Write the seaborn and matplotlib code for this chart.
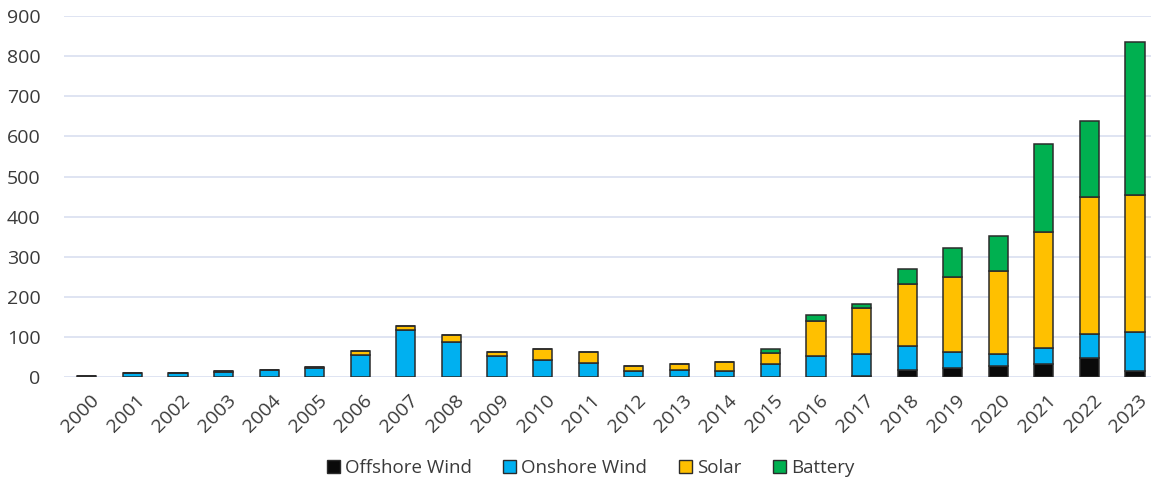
import matplotlib
matplotlib.use("Agg")
import matplotlib.pyplot as plt
from matplotlib.patches import Patch
import matplotlib.transforms as mtransforms
import numpy as np
import seaborn as sns

years = [str(y) for y in range(2000, 2024)]
offshore_wind = [0, 0, 0, 0, 0, 0, 0, 0, 0, 0, 0, 0, 0, 0, 0, 0, 0, 3, 19, 22, 28, 32, 49, 16]
onshore_wind = [2, 10, 10, 13, 17, 23, 56, 118, 87, 53, 43, 36, 15, 19, 16, 33, 52, 55, 58, 40, 29, 42, 58, 96]
solar = [0, 0, 0, 3, 0, 3, 10, 10, 18, 10, 27, 27, 14, 13, 23, 27, 88, 114, 155, 187, 208, 289, 341, 343]
battery = [0, 0, 0, 0, 0, 0, 0, 0, 0, 0, 0, 0, 0, 0, 0, 10, 14, 11, 39, 74, 88, 217, 191, 381]

series = ["Offshore Wind", "Onshore Wind", "Solar", "Battery"]
values = [offshore_wind, onshore_wind, solar, battery]
colors = ["#0a0a0a", "#00b0f0", "#ffc000", "#00b050"]
edge = "#2b2b2b"
text_color = "#3a3a3a"

sns.set_theme(style="white")
plt.rcParams["font.family"] = ["Open Sans", "DejaVu Sans"]

fig = plt.figure(figsize=(11.51, 4.82), dpi=100)
ax = fig.add_axes([64 / 1151, 1 - 377.3 / 482, 1 - 64 / 1151, (377.3 - 16) / 482])

bottom = np.zeros(len(years))
for name, vals, col in zip(series, values, colors):
    vals = np.array(vals, dtype=float)
    sns.barplot(x=years, y=vals, bottom=bottom, color=col, width=0.42,
                edgecolor=edge, linewidth=1.1, saturation=1, ax=ax, zorder=3)
    bottom += vals

ax.set_ylim(0, 900)
ax.set_xlim(-0.5, 23.35)
ax.set_yticks(range(0, 901, 100))
ax.yaxis.grid(True, color="#d9dff0", linewidth=1.2, zorder=0)
ax.xaxis.grid(False)
for s in ax.spines.values():
    s.set_visible(False)
ax.tick_params(axis="y", length=0, pad=17, labelsize=14, labelcolor=text_color)
ax.tick_params(axis="x", length=0, pad=10, labelsize=14, labelcolor=text_color)
shift = mtransforms.ScaledTranslation(3 / 100, 0, fig.dpi_scale_trans)
for lbl in ax.get_xticklabels():
    lbl.set_rotation(45)
    lbl.set_ha("right")
    lbl.set_rotation_mode("anchor")
    lbl.set_transform(lbl.get_transform() + shift)
ax.set_xlabel("")
ax.set_ylabel("")

handles = [Patch(facecolor=c, edgecolor=edge, linewidth=1, label=n) for n, c in zip(series, colors)]
fig.legend(handles=handles, loc="center", bbox_to_anchor=(0.513, 0.029), ncol=4,
           frameon=False, fontsize=13.5, handlelength=0.7, handleheight=0.7,
           handletextpad=0.25, columnspacing=1.7, labelcolor=text_color)

fig.savefig("out.png", dpi=100)
